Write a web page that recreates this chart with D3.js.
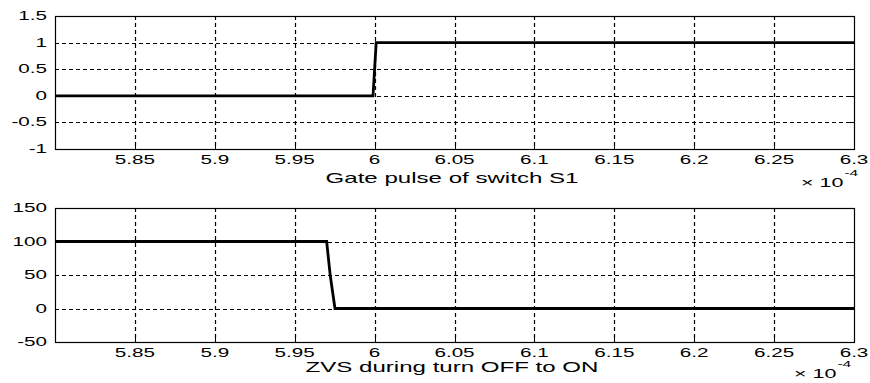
<!DOCTYPE html>
<html>
<head>
<meta charset="utf-8">
<script src="https://cdn.jsdelivr.net/npm/d3@7"></script>
<style>
  html, body { margin: 0; padding: 0; background: #fff; }
  svg { display: block; }
  text { font-family: "Liberation Sans", Arial, sans-serif; fill: #000; }
</style>
</head>
<body>
<svg id="chart" width="870" height="383"></svg>
<script>
// Time axis values are in units of 1e-4 s
const xTickValues = [5.85, 5.9, 5.95, 6, 6.05, 6.1, 6.15, 6.2, 6.25, 6.3];
const xTickLabels = ["5.85", "5.9", "5.95", "6", "6.05", "6.1", "6.15", "6.2", "6.25", "6.3"];

// Gate pulse of switch S1
const gateTime  = [5.8, 5.9990, 6.0010, 6.3];
const gateValue = [0, 0, 1, 1];
const gateYTicks  = [-1, -0.5, 0, 0.5, 1, 1.5];
const gateYLabels = ["-1", "-0.5", "0", "0.5", "1", "1.5"];

// Switch voltage during the OFF -> ON transition
const zvsTime  = [5.8, 5.9700, 5.9722, 5.9752, 6.3];
const zvsValue = [100, 100, 50, 0, 0];
const zvsYTicks  = [-50, 0, 50, 100, 150];
const zvsYLabels = ["-50", "0", "50", "100", "150"];

const titles = ["Gate pulse of switch S1", "ZVS during turn OFF to ON"];

const svg = d3.select("#chart");
const SX = 1.72; // horizontal stretch of the lettering

function label(g, x, y, str, size, anchor) {
  return g.append("text")
    .attr("transform", `translate(${x},${y}) scale(${SX},1)`)
    .attr("text-anchor", anchor)
    .style("font-size", size + "px")
    .text(str);
}

function panel(cfg) {
  const g = svg.append("g");
  const x = d3.scaleLinear().domain([5.8, 6.3]).range([55, 854]);
  const y = d3.scaleLinear().domain(cfg.yDomain).range([cfg.bottom, cfg.top]);

  // grid
  g.append("g").selectAll("line").data(xTickValues.filter(v => v < 6.3)).join("line")
    .attr("x1", d => Math.round(x(d)) + 0.5).attr("x2", d => Math.round(x(d)) + 0.5)
    .attr("y1", cfg.top).attr("y2", cfg.bottom)
    .attr("stroke", "#000").attr("stroke-width", 1.2).attr("stroke-dasharray", "4,3");
  g.append("g").selectAll("line").data(cfg.yTicks.slice(1, -1)).join("line")
    .attr("x1", 55).attr("x2", 854)
    .attr("y1", d => Math.round(y(d)) + 0.5).attr("y2", d => Math.round(y(d)) + 0.5)
    .attr("stroke", "#000").attr("stroke-width", 1.2).attr("stroke-dasharray", "4,3");

  // inward ticks on all four sides
  const tl = 4;
  const tg = g.append("g").attr("stroke", "#000").attr("stroke-width", 1);
  xTickValues.forEach(v => {
    const px = Math.round(x(v)) + 0.5;
    tg.append("line").attr("x1", px).attr("x2", px).attr("y1", cfg.bottom).attr("y2", cfg.bottom - tl);
    tg.append("line").attr("x1", px).attr("x2", px).attr("y1", cfg.top).attr("y2", cfg.top + tl);
  });
  cfg.yTicks.forEach(v => {
    const py = Math.round(y(v)) + 0.5;
    tg.append("line").attr("x1", 55).attr("x2", 55 + tl).attr("y1", py).attr("y2", py);
    tg.append("line").attr("x1", 854).attr("x2", 854 - tl).attr("y1", py).attr("y2", py);
  });

  // signal
  const pts = cfg.t.map((t, i) => [t, cfg.v[i]]);
  g.append("path").datum(pts)
    .attr("d", d3.line().x(d => x(d[0])).y(d => y(d[1])))
    .attr("fill", "none").attr("stroke", "#000").attr("stroke-width", 2.8)
    .attr("stroke-linejoin", "miter");

  // box
  g.append("rect")
    .attr("x", 55.5).attr("y", cfg.top + 0.5)
    .attr("width", 854 - 55).attr("height", cfg.bottom - cfg.top)
    .attr("fill", "none").attr("stroke", "#000").attr("stroke-width", 1.2);

  // tick labels
  xTickValues.forEach((v, i) => label(g, x(v), cfg.bottom + 15, xTickLabels[i], 12, "middle"));
  cfg.yTicks.forEach((v, i) => label(g, 47, y(v) + 4, cfg.yLabels[i], 12, "end"));

  // caption under the axis
  label(g, 452, cfg.titleY, cfg.title, 14, "middle");

  // exponent multiplier
  const m = label(g, cfg.expX, cfg.expY, "\u00d7 10", 12.5, "start");
  const w = m.node().getComputedTextLength() * SX;
  label(g, cfg.expX + w + 1, cfg.expY - 11, "-4", 9, "start");
}

panel({ top: 16, bottom: 149, yDomain: [-1, 1.5], yTicks: gateYTicks, yLabels: gateYLabels,
        t: gateTime, v: gateValue, title: titles[0], titleY: 183, expX: 801, expY: 187 });
panel({ top: 208, bottom: 342, yDomain: [-50, 150], yTicks: zvsYTicks, yLabels: zvsYLabels,
        t: zvsTime, v: zvsValue, title: titles[1], titleY: 372, expX: 794, expY: 378 });
</script>
</body>
</html>
